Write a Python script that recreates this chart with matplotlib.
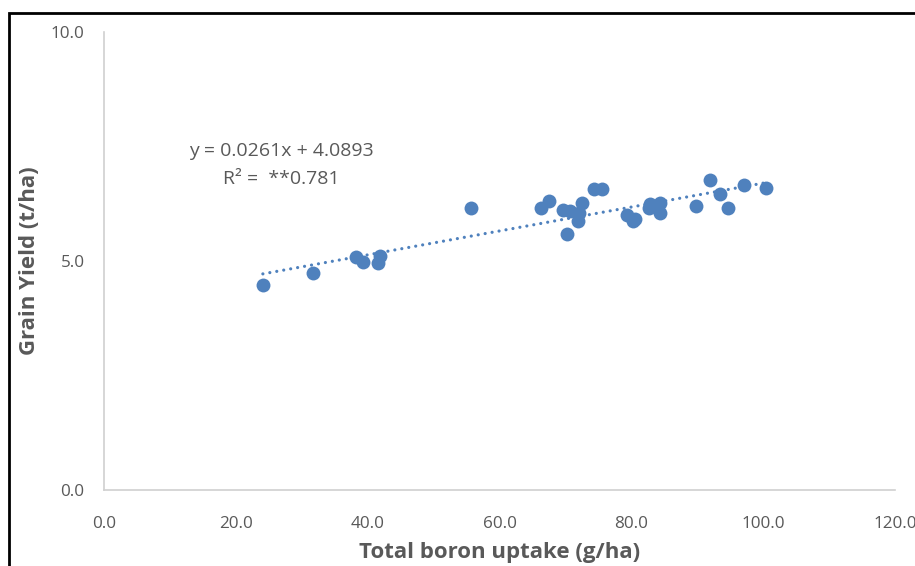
import numpy as np
import matplotlib.pyplot as plt
from matplotlib.patches import Rectangle

# Data
boron_uptake = [24.1, 31.7, 38.2, 39.3, 41.6, 41.9, 55.7, 66.3, 67.5, 69.7,
                70.3, 70.7, 71.9, 72.1, 72.5, 74.4, 75.6, 79.4, 80.3, 80.6,
                82.7, 82.9, 84.4, 84.4, 89.8, 92.0, 93.5, 94.7, 97.1, 100.5]
grain_yield = [4.48, 4.74, 5.09, 4.98, 4.96, 5.11, 6.16, 6.16, 6.31, 6.11,
               5.59, 6.09, 5.87, 6.05, 6.27, 6.57, 6.57, 6.00, 5.87, 5.92,
               6.16, 6.24, 6.05, 6.27, 6.20, 6.77, 6.46, 6.16, 6.66, 6.59]
slope = 0.0261
intercept = 4.0893
x_ticks = [0, 20, 40, 60, 80, 100, 120]
y_ticks = [0, 5, 10]

blue = "#4F81BD"
grey = "#595959"

plt.rcParams['font.family'] = ['Open Sans', 'DejaVu Sans']

fig = plt.figure(figsize=(9.15, 5.66), dpi=100)
ax = fig.add_axes([0.1137, 0.1343, 0.978 - 0.1137, 0.9435 - 0.1343])

ax.scatter(boron_uptake, grain_yield, s=100, color=blue, zorder=3, linewidths=0)

# trendline
xt = np.array([min(boron_uptake), max(boron_uptake)])
ax.plot(xt, slope * xt + intercept, color=blue, linewidth=2.3,
        linestyle=(0, (0.01, 2.2)), dash_capstyle="round", zorder=2)

ax.text(26.9, 7.40, "y = 0.0261x + 4.0893", fontsize=14,
        color=grey, ha="center", va="center")
ax.text(26.9, 6.79, "R\u00b2 =  **0.781", fontsize=14, color=grey,
        ha="center", va="center")

ax.set_xlim(0, 120)
ax.set_ylim(0, 10)
ax.set_xticks(x_ticks)
ax.set_xticklabels([f"{v:.1f}" for v in x_ticks])
ax.set_yticks(y_ticks)
ax.set_yticklabels([f"{v:.1f}" for v in y_ticks])
ax.tick_params(length=0, labelsize=12.3, colors=grey)
ax.tick_params(axis="x", pad=19)
ax.tick_params(axis="y", pad=14)

for side in ["top", "right"]:
    ax.spines[side].set_visible(False)
for side in ["left", "bottom"]:
    ax.spines[side].set_color("#D0D0D0")
    ax.spines[side].set_linewidth(1.2)

ax.set_xlabel("Total boron uptake (g/ha)", fontsize=16, fontweight="bold",
              color=grey, labelpad=7)
ax.set_ylabel("Grain Yield (t/ha)", fontsize=16, fontweight="bold",
              color=grey, labelpad=8)

# black frame around the chart (cropped at right and bottom)
frame = Rectangle((0.0098, -0.2), 1.2, 0.977 + 0.2, transform=fig.transFigure,
                  fill=False, edgecolor="black", linewidth=2, clip_on=False)
fig.patches.append(frame)

plt.savefig("out.png", dpi=100)
